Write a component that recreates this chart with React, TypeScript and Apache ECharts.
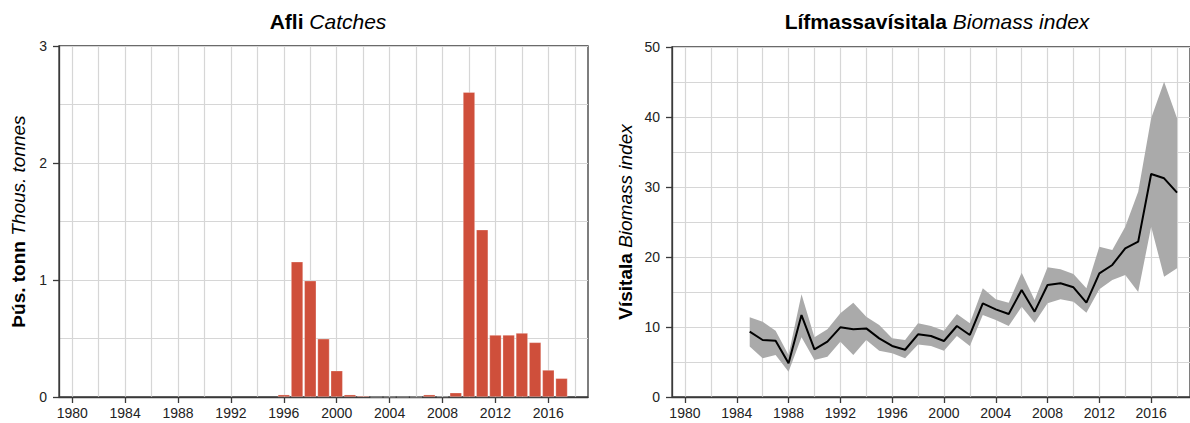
import { useEffect, useRef } from "react";
import * as echarts from "echarts";

// ---- Data ----
const catchYears = [1996, 1997, 1998, 1999, 2000, 2001, 2002, 2003, 2004, 2005, 2006, 2007, 2008, 2009, 2010, 2011, 2012, 2013, 2014, 2015, 2016, 2017];
const catchValues = [0.02, 1.156, 0.994, 0.498, 0.225, 0.02, 0.01, 0, 0, 0, 0, 0.02, 0.005, 0.037, 2.605, 1.43, 0.53, 0.53, 0.547, 0.467, 0.231, 0.16];

const indexYears = [1985, 1986, 1987, 1988, 1989, 1990, 1991, 1992, 1993, 1994, 1995, 1996, 1997, 1998, 1999, 2000, 2001, 2002, 2003, 2004, 2005, 2006, 2007, 2008, 2009, 2010, 2011, 2012, 2013, 2014, 2015, 2016, 2017, 2018];
const indexMean = [9.33, 8.14, 8.05, 4.81, 11.7, 6.81, 7.9, 9.95, 9.67, 9.8, 8.38, 7.29, 6.75, 8.95, 8.71, 8.0, 10.14, 8.86, 13.38, 12.52, 11.86, 15.29, 12.19, 16.0, 16.24, 15.67, 13.48, 17.67, 18.86, 21.24, 22.19, 31.86, 31.24, 29.19];
const indexUpper = [11.38, 10.76, 9.48, 6.0, 14.67, 8.52, 9.67, 11.95, 13.48, 11.48, 10.29, 8.38, 8.14, 10.55, 10.14, 9.48, 11.86, 10.52, 15.52, 13.95, 13.48, 17.76, 13.86, 18.52, 18.24, 17.57, 15.52, 21.48, 21.0, 24.33, 29.33, 39.81, 45.05, 39.81];
const indexLower = [7.2, 5.52, 6.0, 3.62, 8.52, 5.29, 5.76, 7.9, 6.0, 8.14, 6.62, 6.24, 5.52, 7.5, 7.29, 6.62, 8.71, 7.29, 11.71, 11.0, 10.14, 12.9, 10.62, 13.38, 13.95, 13.62, 12.05, 15.38, 16.71, 17.43, 15.0, 24.33, 17.19, 18.38];

const labelYears = [1980, 1984, 1988, 1992, 1996, 2000, 2004, 2008, 2012, 2016];
const gridYears = [1980, 1982, 1984, 1986, 1988, 1990, 1992, 1994, 1996, 1998, 2000, 2002, 2004, 2006, 2008, 2010, 2012, 2014, 2016, 2018];

// ---- Styles ----
const FONT = "'Liberation Sans', Arial, Helvetica, sans-serif";
const AXIS = "#3a3a3a";
const GRIDC = "#d6d6d6";
const BAR = "#cf4f3b";
const BAND = "#aaaaaa";

function xAxes(gridIndex: number) {
  return [
    {
      type: "value",
      gridIndex,
      min: 1979,
      max: 2019,
      position: "bottom",
      axisLine: { show: true, onZero: false, lineStyle: { color: AXIS, width: 1.3 } },
      axisTick: { show: true, length: 6, customValues: labelYears, lineStyle: { color: AXIS, width: 1.3 } },
      axisLabel: {
        show: true,
        customValues: labelYears,
        margin: 9,
        fontSize: 14,
        color: "#222",
        fontFamily: FONT,
        formatter: (v: number) => String(v),
      },
      splitLine: { show: false },
    },
    {
      type: "value",
      gridIndex,
      min: 1979,
      max: 2019,
      position: "top",
      axisLine: { show: false },
      axisTick: { show: false, customValues: gridYears },
      axisLabel: { show: false },
      splitLine: { show: true, lineStyle: { color: GRIDC, width: 1.2 } },
    },
  ];
}

function yAxis(gridIndex: number, max: number, interval: number, bold: string, italic: string, nameGap: number) {
  return {
    type: "value",
    gridIndex,
    min: 0,
    max,
    interval,
    axisLine: { show: true, onZero: false, lineStyle: { color: AXIS, width: 1.3 } },
    axisTick: { show: true, length: 6, lineStyle: { color: AXIS, width: 1.3 } },
    axisLabel: { margin: 12, fontSize: 14, color: "#222", fontFamily: FONT },
    splitLine: { show: true, lineStyle: { color: GRIDC, width: 1.2 } },
    minorTick: { show: false, splitNumber: 2 },
    minorSplitLine: { show: true, lineStyle: { color: GRIDC, width: 1.2 } },
    name: `{b|${bold}} {i|${italic}}`,
    nameLocation: "middle",
    nameRotate: 90,
    nameGap,
    nameTextStyle: {
      fontSize: 19,
      fontFamily: FONT,
      color: "#000",
      rich: {
        b: { fontWeight: "bold", fontSize: 19, fontFamily: FONT, color: "#000" },
        i: { fontStyle: "italic", fontWeight: "normal", fontSize: 19, fontFamily: FONT, color: "#000" },
      },
    },
  };
}

function titleOf(left: number, bold: string, italic: string) {
  return {
    text: `{b|${bold}} {i|${italic}}`,
    left,
    top: 6,
    textAlign: "center",
    textStyle: {
      fontSize: 21,
      fontWeight: "normal",
      fontFamily: FONT,
      color: "#000",
      rich: {
        b: { fontWeight: "bold", fontSize: 21, fontFamily: FONT, color: "#000" },
        i: { fontStyle: "italic", fontWeight: "normal", fontSize: 21, fontFamily: FONT, color: "#000" },
      },
    },
  };
}

export default function App() {
  const ref = useRef<HTMLDivElement>(null);

  useEffect(() => {
    if (!ref.current) return;
    const chart = echarts.init(ref.current, undefined, { renderer: "svg" });

    const barData = catchYears.map((y, i) => [y, catchValues[i]]);
    const bandData = indexYears.map((y, i) => [y, indexLower[i], indexUpper[i]]);
    const meanData = indexYears.map((y, i) => [y, indexMean[i]]);

    chart.setOption({
      animation: false,
      title: [
        titleOf(323, "Afli", "Catches"),
        titleOf(932, "Lífmassavísitala", "Biomass index"),
      ],
      grid: [
        { left: 59, top: 46, width: 529, height: 351, show: true, borderColor: AXIS, borderWidth: 1.3, backgroundColor: "transparent" },
        { left: 672, top: 47, width: 521, height: 350, show: true, borderColor: AXIS, borderWidth: 1.3, backgroundColor: "transparent" },
      ],
      xAxis: [...xAxes(0), ...xAxes(1)],
      yAxis: [
        yAxis(0, 3, 1, "Þús. tonn", "Thous. tonnes", 31),
        yAxis(1, 50, 10, "Vísitala", "Biomass index", 37),
      ],
      series: [
        {
          type: "bar",
          xAxisIndex: 0,
          yAxisIndex: 0,
          data: barData,
          barWidth: 12,
          itemStyle: { color: BAR, borderColor: "rgba(255,255,255,0.45)", borderWidth: 0.6 },
        },
        {
          type: "custom",
          xAxisIndex: 2,
          yAxisIndex: 1,
          data: bandData,
          encode: { x: 0, y: [1, 2] },
          silent: true,
          z: 2,
          renderItem: (params: any, api: any) => {
            if (params.dataIndex !== 0) return null;
            const upper = bandData.map((d) => api.coord([d[0], d[2]]));
            const lower = bandData.map((d) => api.coord([d[0], d[1]])).reverse();
            return {
              type: "polygon",
              shape: { points: [...upper, ...lower] },
              style: { fill: BAND, stroke: "none" },
            };
          },
        },
        {
          type: "line",
          xAxisIndex: 2,
          yAxisIndex: 1,
          data: meanData,
          symbol: "none",
          z: 3,
          lineStyle: { color: "#000", width: 2 },
        },
      ],
    });

    return () => chart.dispose();
  }, []);

  return (
    <div
      ref={ref}
      style={{ position: "fixed", left: 0, top: 0, width: 1190, height: 423, background: "#fff" }}
    />
  );
}
